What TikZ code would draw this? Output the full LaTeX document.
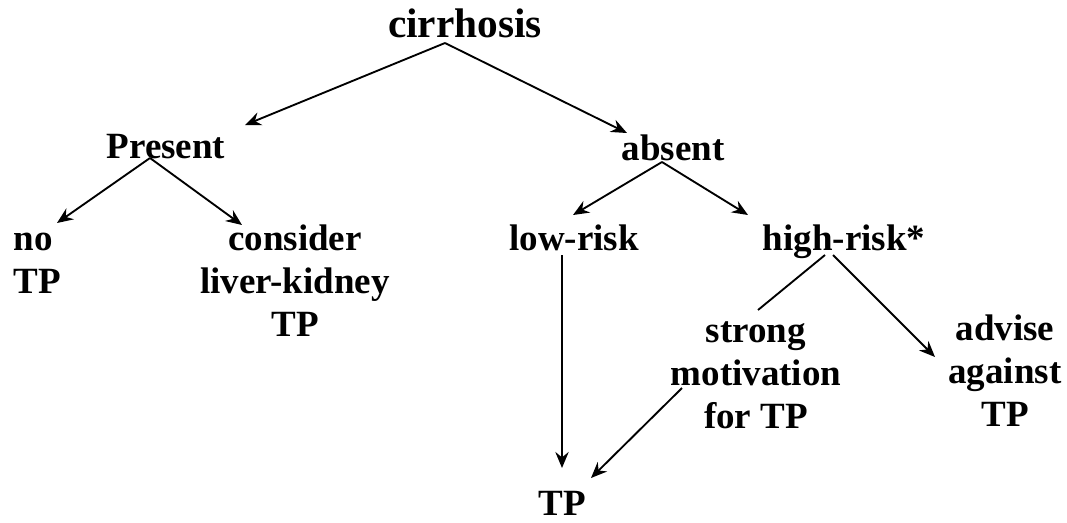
\documentclass[tikz,border=0pt]{standalone}
\usepackage{fontspec}
\setmainfont{Liberation Serif}
\usetikzlibrary{arrows.meta}

\tikzset{every picture/.style={line width=1.4pt}}
\tikzset{
  lbl/.style={anchor=base, inner sep=0pt, font=\bfseries\fontsize{27.75}{32.25}\selectfont},
  arr/.style={-{Stealth[length=12pt,width=10pt,inset=4pt]}}
}

\begin{document}
\begin{tikzpicture}[x=0.75pt,y=0.75pt,yscale=-1,xscale=1]
\useasboundingbox (0,0) rectangle (1067,522);

% Text Node
\node[lbl, font=\bfseries\fontsize{31}{36}\selectfont] (cirr) at (465,37) {cirrhosis};
% Text Node
\node[lbl] (pres) at (166,158) {Present};
% Text Node
\node[lbl] (abs) at (673,160) {absent};
% Text Node
\node[lbl, anchor=base west, align=left] (no) at (13,293) {no\\TP};
% Text Node
\node[lbl, align=center] (cons) at (295,336) {consider\\liver-kidney\\TP};
% Text Node
\node[lbl] (low) at (574,250) {low-risk};
% Text Node
\node[lbl] (high) at (844,250) {high-risk*};
% Text Node
\node[lbl, align=center] (strong) at (756,428) {strong\\motivation\\for TP};
% Text Node
\node[lbl, align=center] (adv) at (1005,426) {advise\\against\\TP};
% Text Node
\node[lbl] (tp) at (562,515) {TP};

% Connection
\draw[arr] ([shift={(-20,6)}]cirr.base) -- ([shift={(79,-33)}]pres.base);
% Connection
\draw[arr] ([shift={(-20,6)}]cirr.base) -- ([shift={(-46,-27)}]abs.base);
% Connection
\draw[arr] ([shift={(-16,0)}]pres.base) -- ([shift={(44,-70)}]no.base west);
% Connection
\draw[arr] ([shift={(-16,0)}]pres.base) -- ([shift={(-53,-111)}]cons.base);
% Connection
\draw[arr] ([shift={(-11,2)}]abs.base) -- ([shift={(-1,-35)}]low.base);
% Connection
\draw[arr] ([shift={(-11,2)}]abs.base) -- ([shift={(-96,-35)}]high.base);
% Connection
\draw[arr] ([shift={(-12,5)}]low.base) -- ([shift={(0,-47)}]tp.base);
% Connection
\draw ([shift={(-19,5)}]high.base) -- ([shift={(2,-118)}]strong.base);
% Connection
\draw[arr] ([shift={(-74,-40)}]strong.base) -- ([shift={(29,-37)}]tp.base);
% Connection
\draw[arr] ([shift={(-11,5)}]high.base) -- ([shift={(-70,-69)}]adv.base);

\end{tikzpicture}
\end{document}
